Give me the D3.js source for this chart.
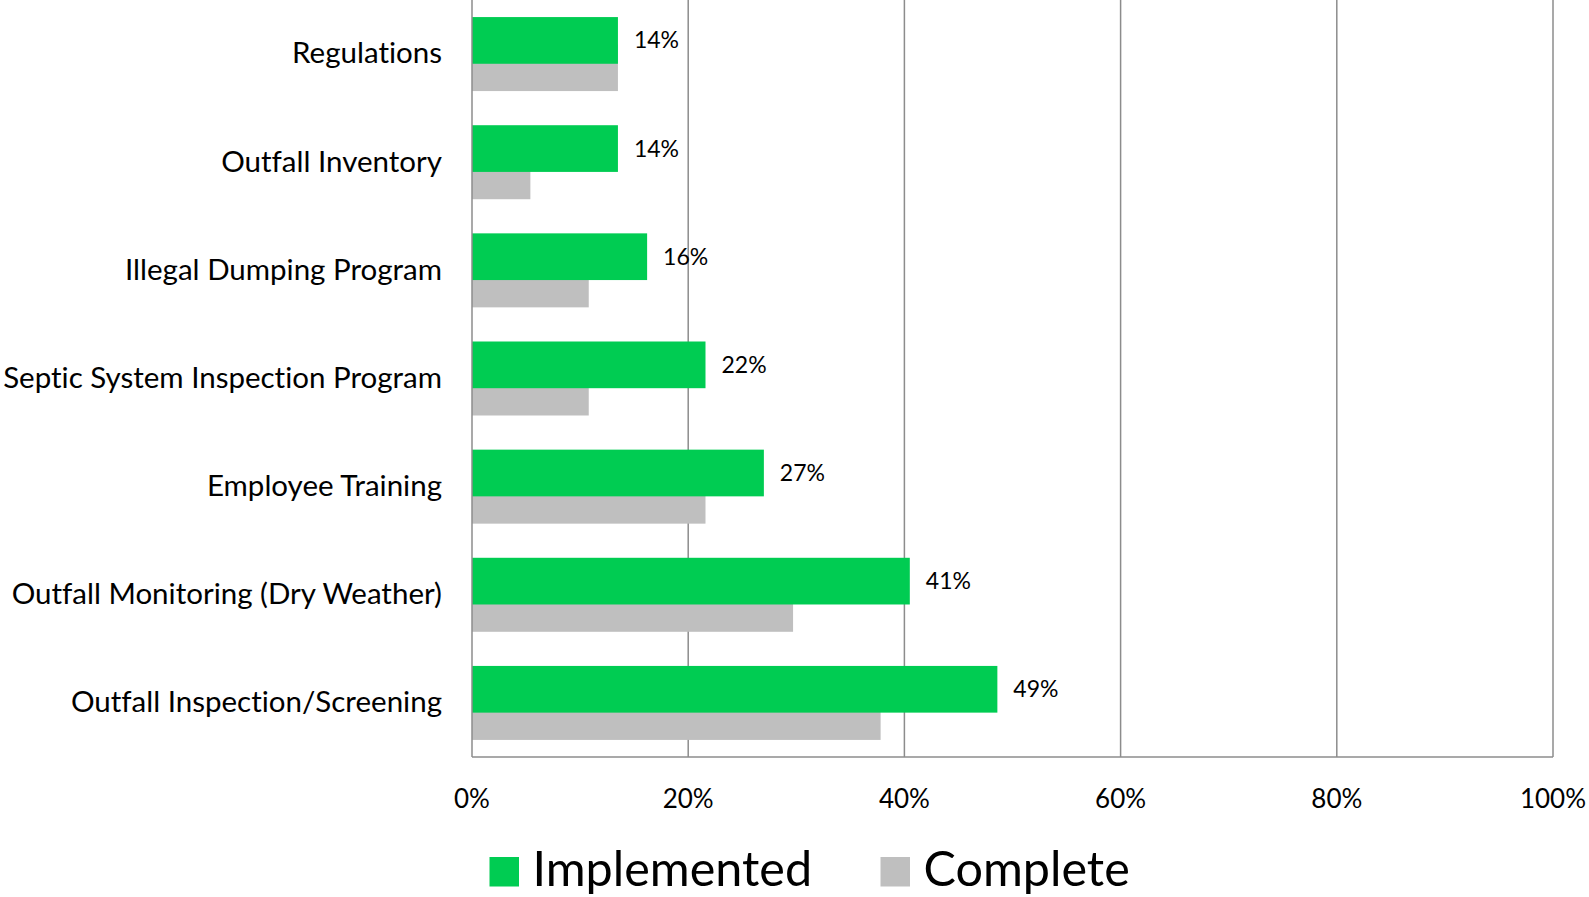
<!DOCTYPE html>
<html>
<head>
<meta charset="utf-8">
<script src="https://cdn.jsdelivr.net/npm/d3@7"></script>
<style>
  body { margin: 0; background: #fff; }
  svg { display: block; font-family: Lato, "Open Sans", sans-serif; font-variant-ligatures: none; }
</style>
</head>
<body>
<svg width="1589" height="897"></svg>
<script>
// categories, top to bottom
var categories = ["Regulations", "Outfall Inventory", "Illegal Dumping Program",
  "Septic System Inspection Program", "Employee Training",
  "Outfall Monitoring (Dry Weather)", "Outfall Inspection/Screening"];
// percent of respondents
var implemented = [13.5, 13.5, 16.2, 21.6, 27.0, 40.5, 48.6];
var complete = [13.5, 5.4, 10.8, 10.8, 21.6, 29.7, 37.8];
var ticks = [0, 20, 40, 60, 80, 100];
var seriesNames = ["Implemented", "Complete"];
var colors = ["#00cc52", "#bfbfbf"];

var svg = d3.select("svg");
var plotLeft = 472, plotRight = 1553, plotTop = 0, plotBottom = 757;

var x = d3.scaleLinear().domain([0, 100]).range([plotLeft, plotRight]);
var y = d3.scaleBand().domain(categories).range([plotTop, plotBottom]);

var barH = 46.7, shift = 27.3;

// gridlines
svg.append("g").selectAll("line")
  .data(ticks.slice(1))
  .enter().append("line")
    .attr("x1", function(d) { return x(d); })
    .attr("x2", function(d) { return x(d); })
    .attr("y1", plotTop).attr("y2", plotBottom)
    .attr("stroke", "#8c8c8c").attr("stroke-width", 1.5);

var rows = svg.append("g").selectAll("g")
  .data(categories)
  .enter().append("g")
    .attr("transform", function(d) { return "translate(0," + (y(d) + y.bandwidth() / 2) + ")"; });

// complete (behind)
rows.append("rect")
  .attr("x", x(0))
  .attr("y", -37 + shift)
  .attr("width", function(d, i) { return x(complete[i]) - x(0); })
  .attr("height", barH)
  .attr("fill", colors[1]);

// implemented
rows.append("rect")
  .attr("x", x(0))
  .attr("y", -37)
  .attr("width", function(d, i) { return x(implemented[i]) - x(0); })
  .attr("height", barH)
  .attr("fill", colors[0]);

rows.append("text")
  .attr("x", function(d, i) { return x(implemented[i]) + 16; })
  .attr("y", -37 + barH / 2)
  .attr("dy", "0.35em")
  .attr("font-size", 23)
  .attr("fill", "#000")
  .text(function(d, i) { return Math.round(implemented[i]) + "%"; });

// category labels
rows.append("text")
  .attr("x", 442)
  .attr("y", -1)
  .attr("dy", "0.35em")
  .attr("text-anchor", "end")
  .attr("font-size", 29.5)
  .text(function(d) { return d; });

// axes lines
svg.append("line").attr("x1", x(0)).attr("x2", x(0)).attr("y1", plotTop).attr("y2", plotBottom)
  .attr("stroke", "#8c8c8c").attr("stroke-width", 1.5);
svg.append("line").attr("x1", x(0)).attr("x2", x(100)).attr("y1", plotBottom).attr("y2", plotBottom)
  .attr("stroke", "#8c8c8c").attr("stroke-width", 1.5);

svg.append("g").selectAll("text")
  .data(ticks)
  .enter().append("text")
    .attr("x", function(d) { return x(d); })
    .attr("y", 799)
    .attr("dy", "0.35em")
    .attr("text-anchor", "middle")
    .attr("font-size", 26)
    .text(function(d) { return d + "%"; });

// legend
var legendX = [489.5, 880.5];
var leg = svg.append("g").selectAll("g")
  .data(seriesNames)
  .enter().append("g")
    .attr("transform", function(d, i) { return "translate(" + legendX[i] + ",857)"; });
leg.append("rect").attr("width", 29.5).attr("height", 29.5)
  .attr("fill", function(d, i) { return colors[i]; });
leg.append("text").attr("x", 43).attr("y", 12).attr("dy", "0.35em")
  .attr("font-size", 48.5)
  .text(function(d) { return d; });
</script>
</body>
</html>
